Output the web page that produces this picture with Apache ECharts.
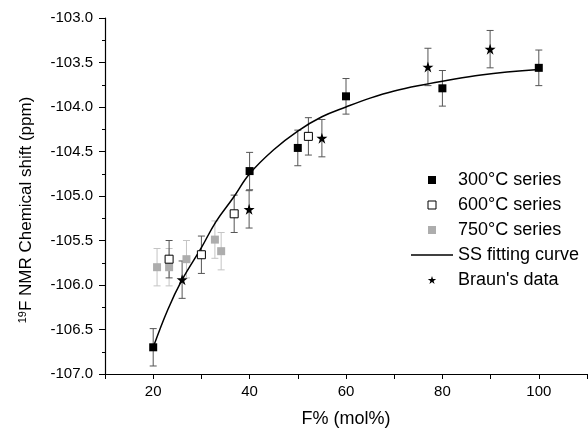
<!DOCTYPE html>
<html>
<head>
<meta charset="utf-8">
<script src="https://cdn.jsdelivr.net/npm/echarts@6/dist/echarts.min.js"></script>
<style>html,body{margin:0;padding:0;background:#fff;}#c{width:588px;height:433px;}</style>
</head>
<body>
<div id="c"></div>
<script>
// ---- data ----
const s300X = [20, 40, 50, 60, 80, 100];
const s300Y = [-106.70, -104.72, -104.46, -103.88, -103.79, -103.56];
const s300Err = [0.21, 0.21, 0.20, 0.20, 0.20, 0.20];

const s600X = [23.3, 30.0, 36.8, 52.2];
const s600Y = [-105.71, -105.66, -105.20, -104.33];
const s600Err = [0.21, 0.21, 0.21, 0.21];

const s750X = [20.8, 23.3, 26.9, 32.8, 34.1];
const s750Y = [-105.80, -105.80, -105.71, -105.49, -105.62];
const s750Err = [0.21, 0.21, 0.21, 0.21, 0.21];

const braunX = [26.0, 39.9, 55.0, 77.0, 89.9];
const braunY = [-105.94, -105.15, -104.35, -103.55, -103.35];
const braunErr = [0.21, 0.21, 0.21, 0.21, 0.21];

const fitX = [20, 23, 26, 30, 33, 36.6, 40, 45, 50, 55, 60, 65, 70, 77, 80, 88, 100];
const fitY = [-106.70, -106.28, -105.94, -105.58, -105.29, -105.02, -104.75, -104.48, -104.27, -104.11, -104.00, -103.90, -103.82, -103.74, -103.71, -103.64, -103.58];

const seriesNames = ['300\u00B0C series', '600\u00B0C series', '750\u00B0C series', 'SS fitting curve', "Braun's data"];
const xTickLabels = [20, 40, 60, 80, 100];

const STAR = 'path://M0,-100 L22.45,-30.9 L95.1,-30.9 L36.3,11.8 L58.8,80.9 L0,38.2 L-58.8,80.9 L-36.3,11.8 L-95.1,-30.9 L-22.45,-30.9 Z';
const SQUARE = 'path://M0,0 L10,0 L10,10 L0,10 Z';
const LINEICON = 'path://M0,0 L42,0 L42,1.4 L0,1.4 Z';

function pts(xs, ys) { return xs.map((x, i) => [x, ys[i]]); }
function errs(xs, ys, es) { return xs.map((x, i) => [x, ys[i] - es[i], ys[i] + es[i]]); }

function errSeries(data, color) {
  return {
    type: 'custom',
    silent: true,
    z: 1,
    data: data,
    encode: { x: 0, y: [1, 2] },
    renderItem: function (params, api) {
      const x = api.value(0);
      const top = api.coord([x, api.value(2)]);
      const bot = api.coord([x, api.value(1)]);
      const w = 3.5;
      const st = { stroke: color, lineWidth: 1 };
      return {
        type: 'group',
        children: [
          { type: 'line', shape: { x1: top[0], y1: top[1], x2: bot[0], y2: bot[1] }, style: st },
          { type: 'line', shape: { x1: top[0] - w, y1: top[1], x2: top[0] + w, y2: top[1] }, style: st },
          { type: 'line', shape: { x1: bot[0] - w, y1: bot[1], x2: bot[0] + w, y2: bot[1] }, style: st }
        ]
      };
    }
  };
}

const chart = echarts.init(document.getElementById('c'), null, { renderer: 'canvas' });
const axisLine = { show: true, lineStyle: { color: '#000', width: 1.2 } };
chart.setOption({
  animation: false,
  backgroundColor: '#fff',
  textStyle: { fontFamily: 'Liberation Sans, Arial, sans-serif' },
  grid: { left: 105, top: 18, right: 1, bottom: 59, containLabel: false, outerBoundsMode: 'none' },
  xAxis: {
    type: 'value', min: 10, max: 110, interval: 10,
    name: 'F% (mol%)', nameLocation: 'middle', nameGap: 36,
    nameTextStyle: { fontSize: 18, color: '#000', fontFamily: 'Liberation Sans' },
    axisLine: axisLine,
    axisTick: { show: true, inside: false, length: 5, lineStyle: { color: '#000' } },
    axisLabel: {
      fontSize: 15, color: '#000', margin: 10, fontFamily: 'Liberation Sans',
      formatter: function (v) { return xTickLabels.indexOf(v) >= 0 ? String(v) : ''; }
    },
    splitLine: { show: false }
  },
  yAxis: {
    type: 'value', min: -107, max: -103, interval: 0.5,
    name: '{sup|19}F NMR Chemical shift (ppm)', nameLocation: 'middle', nameGap: 69,
    nameTextStyle: {
      fontSize: 17, color: '#000', fontFamily: 'Liberation Sans', padding: [0, 28, 0, 0],
      rich: { sup: { fontSize: 11, color: '#000', fontFamily: 'Liberation Sans', padding: [0, 0, 8, 0] } }
    },
    axisLine: axisLine,
    axisTick: { show: true, inside: false, length: 6, lineStyle: { color: '#000' } },
    minorTick: { show: true, splitNumber: 2, length: 3, lineStyle: { color: '#000' } },
    axisLabel: {
      fontSize: 15, color: '#000', margin: 12, fontFamily: 'Liberation Sans',
      formatter: function (v) { return v.toFixed(1); }
    },
    splitLine: { show: false }
  },
  legend: {
    orient: 'vertical', left: 406, top: 166,
    itemWidth: 42, itemHeight: 8, itemGap: 7,
    symbolKeepAspect: true,
    textStyle: { fontSize: 18, color: '#000', fontFamily: 'Liberation Sans' },
    data: [
      { name: seriesNames[0], icon: SQUARE, itemStyle: { color: '#000' } },
      { name: seriesNames[1], icon: SQUARE, itemStyle: { color: '#fff', borderColor: '#000', borderWidth: 1 } },
      { name: seriesNames[2], icon: SQUARE, itemStyle: { color: '#adadad' } },
      { name: seriesNames[3], icon: LINEICON, itemStyle: { color: '#000', borderWidth: 0 } },
      { name: seriesNames[4], icon: STAR, itemStyle: { color: '#000' } }
    ],
    selectedMode: false
  },
  series: [
    errSeries(errs(s750X, s750Y, s750Err), '#c4c4c4'),
    errSeries(errs(s300X, s300Y, s300Err), '#555'),
    errSeries(errs(s600X, s600Y, s600Err), '#555'),
    errSeries(errs(braunX, braunY, braunErr), '#555'),
    {
      name: seriesNames[2], type: 'scatter', symbol: 'rect', symbolSize: 8, z: 3,
      itemStyle: { color: '#adadad', opacity: 1 }, data: pts(s750X, s750Y)
    },
    {
      name: seriesNames[3], type: 'line', smooth: 0.4, showSymbol: false, symbol: 'none', z: 4,
      lineStyle: { color: '#000', width: 1.5 }, itemStyle: { color: '#000' },
      data: pts(fitX, fitY)
    },
    {
      name: seriesNames[0], type: 'scatter', symbol: 'rect', symbolSize: 8, z: 5,
      itemStyle: { color: '#000', opacity: 1 }, data: pts(s300X, s300Y)
    },
    {
      name: seriesNames[1], type: 'scatter', symbol: 'rect', symbolSize: 8, z: 5,
      itemStyle: { color: '#fff', borderColor: '#000', borderWidth: 1, opacity: 1 }, data: pts(s600X, s600Y)
    },
    {
      name: seriesNames[4], type: 'scatter', symbol: STAR, symbolSize: 11, z: 5,
      itemStyle: { color: '#000', opacity: 1 }, data: pts(braunX, braunY)
    }
  ]
});
</script>
</body>
</html>
